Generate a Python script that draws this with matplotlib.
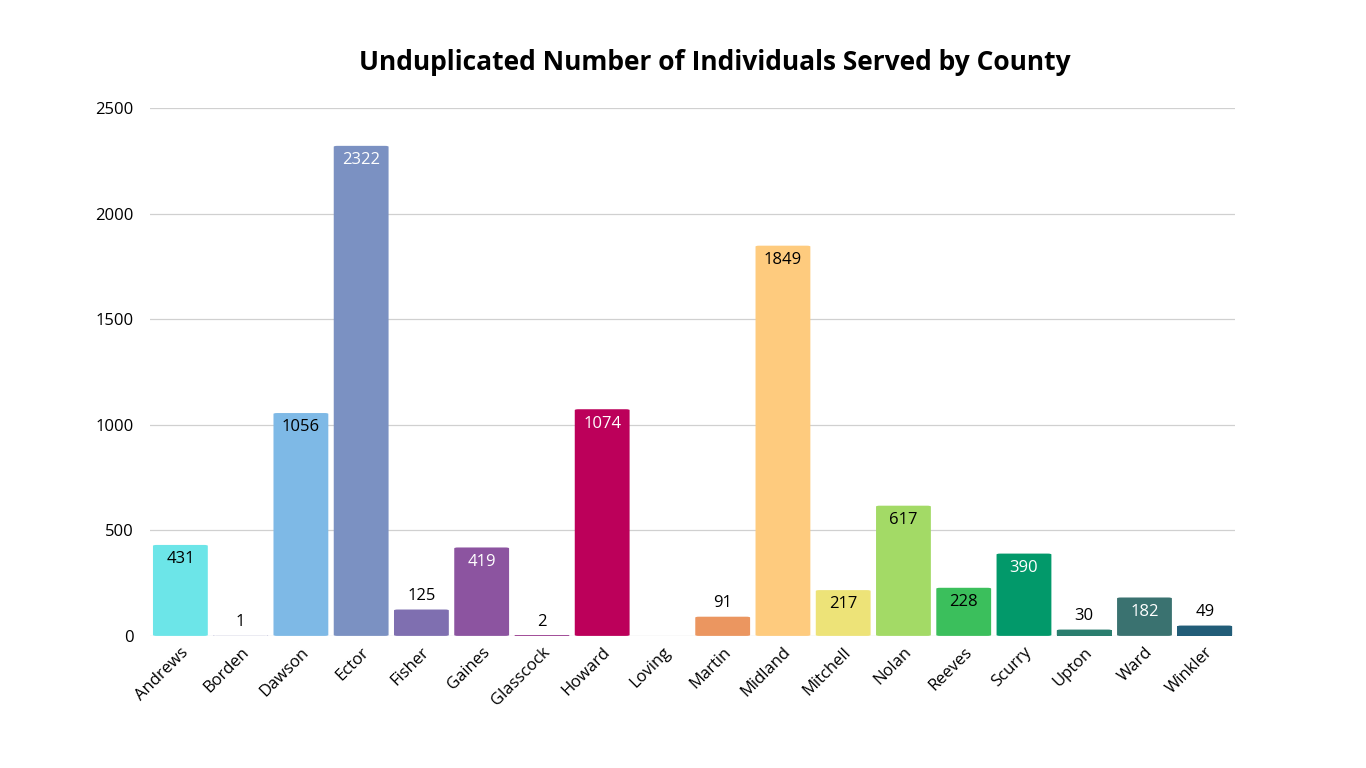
import matplotlib.pyplot as plt
from matplotlib.patches import FancyBboxPatch

counties = ["Andrews", "Borden", "Dawson", "Ector", "Fisher", "Gaines", "Glasscock", "Howard", "Loving",
            "Martin", "Midland", "Mitchell", "Nolan", "Reeves", "Scurry", "Upton", "Ward", "Winkler"]
served = [431, 1, 1056, 2322, 125, 419, 2, 1074, 0, 91, 1849, 217, 617, 228, 390, 30, 182, 49]
colors = ["#6CE5E8", "#B7B7D9", "#7EB9E6", "#7B91C2", "#7F6FB0", "#8C54A0", "#A3509A", "#BC005A", "#D06A70",
          "#EB9660", "#FECB7E", "#EDE378", "#A3DA66", "#3BBF5C", "#02996A", "#2A7E6E", "#3A7270", "#225D78"]
inside_color = {"Andrews": "black", "Dawson": "black", "Ector": "white", "Gaines": "white", "Howard": "white",
                "Midland": "black", "Mitchell": "black", "Nolan": "black", "Reeves": "black",
                "Scurry": "white", "Ward": "white"}

plt.rcParams["font.family"] = ["Open Sans", "DejaVu Sans"]
fig = plt.figure(figsize=(13.66, 7.68), dpi=100)
ax = fig.add_axes([0.110, 0.172, 0.794, 0.687])
ax.set_xlim(-0.5, len(counties) - 0.5)
ax.set_ylim(0, 2500)

w = 0.91
for i, (name, v, c) in enumerate(zip(counties, served, colors)):
    if v > 0:
        r = min(0.06, v / 2500 * 3)
        p = FancyBboxPatch((i - w / 2, 0), w, v, boxstyle="round,pad=0,rounding_size=0.06",
                           mutation_aspect=2500 / 18 * 0.5, fc=c, ec="none", zorder=3)
        ax.add_patch(p)
        if v < 50:
            ax.add_patch(plt.Rectangle((i - w / 2, 0), w, v, fc=c, ec="none", zorder=3))
    if v == 0:
        continue
    if name in inside_color:
        ax.text(i, v - 30, str(v), ha="center", va="top", fontsize=12, color=inside_color[name], zorder=4)
    else:
        ax.text(i, v + 25, str(v), ha="center", va="bottom", fontsize=12, color="black", zorder=4)

ax.set_yticks(range(0, 2501, 500))
ax.set_xticks(range(len(counties)))
ax.set_xticklabels(counties, rotation=45, ha="right", rotation_mode="anchor", fontsize=12)
ax.tick_params(axis="y", labelsize=12, length=0, pad=12)
ax.tick_params(axis="x", length=0, pad=6)
ax.grid(axis="y", color="#D0D0D0", lw=0.9, zorder=0)
for s in ax.spines.values():
    s.set_visible(False)

fig.text(0.523, 0.919, "Unduplicated Number of Individuals Served by County", ha="center", va="center",
         fontsize=19, fontweight="bold")
fig.savefig("out.png", dpi=100)
